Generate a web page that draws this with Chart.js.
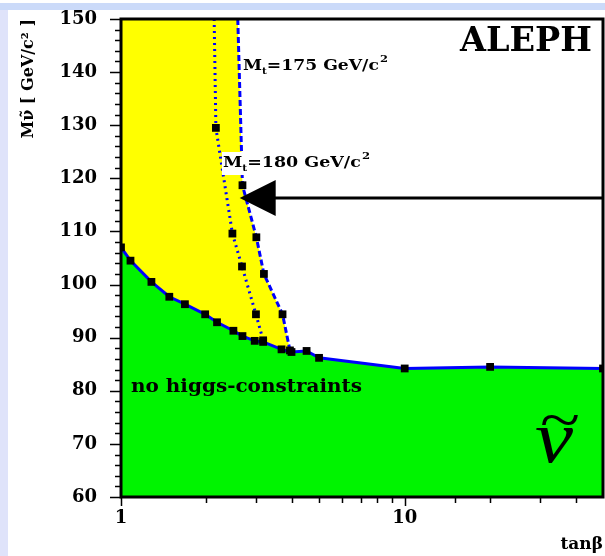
<!DOCTYPE html>
<html>
<head>
<meta charset="utf-8">
<script src="https://cdn.jsdelivr.net/npm/chart.js"></script>
<style>
html, body { margin: 0; padding: 0; background: #fff; }
canvas { display: block; }
</style>
</head>
<body>
<canvas id="grafica" width="605" height="556"></canvas>
<script>
// limite inferior (sin restricciones de higgs)
const tanbBorde = [1, 1.08, 1.28, 1.48, 1.68, 1.98, 2.18, 2.49, 2.68, 2.96, 3.17, 3.68, 3.99, 4.51, 4.99, 10, 20, 50];
const masaBorde = [107, 104.5, 100.5, 97.7, 96.3, 94.4, 92.9, 91.3, 90.3, 89.4, 89.2, 87.8, 87.3, 87.5, 86.2, 84.2, 84.5, 84.2];
// Mt = 180 (punteada)
const tanb180 = [2.13, 2.16, 2.47, 2.67, 2.99, 3.17];
const masa180 = [150, 129.5, 109.6, 103.4, 94.4, 89.5];
// Mt = 175 (discontinua)
const tanb175 = [2.58, 2.68, 3.0, 3.19, 3.71, 3.94];
const masa175 = [150, 118.7, 108.9, 102, 94.4, 87.6];

const ticksY = [60, 70, 80, 90, 100, 110, 120, 130, 140, 150];
const etiquetasX = [1, 10];
const xMin = 1, xMax = 50, yMin = 60, yMax = 150, pasoMenorY = 2;

const flechaMasa = 116.3;
const flechaTanb = 2.62;

const VERDE = '#00f400';
const AMARILLO = '#ffff00';
const AZUL = '#0000ff';
const SERIF = '"DejaVu Serif", serif';

const puntos = (xs, ys) => xs.map((x, i) => ({ x: x, y: ys[i] }));

const corteX = tanb175[tanb175.length - 1];
const poligonoAmarillo = [{ x: xMin, y: yMax }]
    .concat(puntos(tanbBorde, masaBorde).filter(p => p.x < corteX))
    .concat(puntos(tanb175, masa175).reverse());

function dibujarTexto(ctx, partes, x, y, ancho) {
    const fuente = p => `${p.italic ? 'italic ' : ''}${p.bold === false ? '' : 'bold '}${p.size}px ${p.family || SERIF}`;
    let total = 0;
    partes.forEach(p => { ctx.font = fuente(p); total += ctx.measureText(p.t).width + (p.gap || 0); });
    const sx = ancho ? ancho / total : 1;
    ctx.save();
    ctx.translate(x, y);
    ctx.scale(sx, 1);
    ctx.textAlign = 'left';
    ctx.textBaseline = 'alphabetic';
    ctx.fillStyle = '#000';
    let cx = 0;
    partes.forEach(p => {
        ctx.font = fuente(p);
        cx += p.gap || 0;
        ctx.fillText(p.t, cx, p.dy || 0);
        cx += ctx.measureText(p.t).width;
    });
    ctx.restore();
}

function etiquetaMt(valor) {
    return [
        { t: 'M', size: 15 },
        { t: 't', size: 9, dy: 4 },
        { t: '=' + valor + ' GeV/c', size: 15 },
        { t: '2', size: 10, dy: -8, gap: 1 }
    ];
}

const fondo = {
    id: 'fondo',
    beforeDraw(chart) {
        const ctx = chart.ctx;
        ctx.save();
        ctx.fillStyle = '#ffffff';
        ctx.fillRect(0, 0, chart.width, chart.height);
        ctx.fillStyle = '#cbdaf9';
        ctx.fillRect(0, 3, chart.width, 7);
        ctx.fillStyle = '#dfe3fa';
        ctx.fillRect(0, 10, 8, chart.height - 10);
        ctx.restore();
    }
};

const marco = {
    id: 'marco',
    afterDatasetsDraw(chart) {
        const ctx = chart.ctx;
        const { left, right, top, bottom } = chart.chartArea;
        const x = chart.scales.x, y = chart.scales.y;
        ctx.save();

        // flecha
        const py = y.getPixelForValue(flechaMasa);
        const punta = x.getPixelForValue(flechaTanb);
        ctx.strokeStyle = '#000';
        ctx.lineWidth = 3;
        ctx.beginPath();
        ctx.moveTo(right, py);
        ctx.lineTo(punta + 30, py);
        ctx.stroke();
        ctx.fillStyle = '#000';
        ctx.beginPath();
        ctx.moveTo(punta, py);
        ctx.lineTo(punta + 36, py - 18);
        ctx.lineTo(punta + 36, py + 18);
        ctx.closePath();
        ctx.fill();

        // textos
        dibujarTexto(ctx, [{ t: 'ALEPH', size: 33 }], 460, 51, 132);
        dibujarTexto(ctx, etiquetaMt(175), 243, 70, 145);
        ctx.fillStyle = '#fff';
        ctx.fillRect(222, 152, 60, 23);
        dibujarTexto(ctx, etiquetaMt(180), 223, 167, 147);
        dibujarTexto(ctx, [{ t: 'no higgs-constraints', size: 19 }], 131, 392, 231);
        dibujarTexto(ctx, [{ t: 'ν', size: 74, italic: true, bold: false, family: '"Liberation Serif", serif' }], 535, 462, 38);
        dibujarTexto(ctx, [{ t: '~', size: 60, bold: false, family: '"Liberation Serif", serif' }], 540, 440, 40);

        // marco y marcas de los ejes
        ctx.strokeStyle = '#000';
        ctx.lineWidth = 3;
        ctx.strokeRect(left, top, right - left, bottom - top);
        ctx.lineWidth = 1.5;
        ctx.beginPath();
        for (let v = yMin; v <= yMax; v += pasoMenorY) {
            const p = Math.round(y.getPixelForValue(v)) + 0.5;
            const largo = v % 10 === 0 ? 11 : 6;
            ctx.moveTo(left - largo, p);
            ctx.lineTo(left, p);
        }
        x.ticks.forEach(t => {
            if (t.value >= xMax) return;
            const p = Math.round(x.getPixelForValue(t.value)) + 0.5;
            const largo = Number.isInteger(Math.log10(t.value)) ? 9 : 6;
            ctx.moveTo(p, bottom);
            ctx.lineTo(p, bottom + largo);
        });
        ctx.stroke();
        ctx.restore();
    }
};

const marcador = {
    pointStyle: 'rect',
    pointRadius: c => (c.raw && c.raw.y >= yMax ? 0 : 5.5),
    pointBackgroundColor: '#000',
    pointBorderColor: '#000',
    pointBorderWidth: 0,
    pointHoverRadius: 5.5
};

new Chart(document.getElementById('grafica'), {
    type: 'scatter',
    data: {
        datasets: [
            Object.assign({
                label: 'Mt=180',
                data: puntos(tanb180, masa180),
                showLine: true,
                borderColor: AZUL,
                borderWidth: 3,
                borderDash: [2, 4],
                fill: false
            }, marcador),
            Object.assign({
                label: 'Mt=175',
                data: puntos(tanb175, masa175),
                showLine: true,
                borderColor: AZUL,
                borderWidth: 3,
                borderDash: [6, 3],
                fill: false
            }, marcador),
            Object.assign({
                label: 'no higgs-constraints',
                data: puntos(tanbBorde, masaBorde),
                showLine: true,
                borderColor: AZUL,
                borderWidth: 3,
                backgroundColor: VERDE,
                fill: 'start'
            }, marcador),
            {
                label: 'region',
                data: poligonoAmarillo,
                showLine: true,
                borderWidth: 0,
                borderColor: AMARILLO,
                backgroundColor: AMARILLO,
                pointRadius: 0,
                fill: 'shape'
            }
        ]
    },
    options: {
        responsive: false,
        animation: false,
        layout: { autoPadding: false, padding: { top: 19, right: 2, left: 0, bottom: 0 } },
        plugins: {
            legend: { display: false },
            tooltip: { enabled: false }
        },
        scales: {
            x: {
                type: 'logarithmic',
                min: xMin,
                max: xMax,
                grid: { display: false, drawTicks: false },
                border: { display: false },
                ticks: {
                    autoSkip: false,
                    maxRotation: 0,
                    padding: 11,
                    color: '#000',
                    font: { family: SERIF, size: 18, weight: 'bold' },
                    callback: v => (etiquetasX.includes(v) ? String(v) : '')
                },
                title: {
                    display: true,
                    text: 'tanβ',
                    align: 'end',
                    color: '#000',
                    font: { family: SERIF, size: 17, weight: 'bold' },
                    padding: { top: 0, bottom: 1 }
                },
                afterFit: s => {
                    s.height = 59;
                    s.paddingLeft = 0;
                    s.paddingRight = 0;
                }
            },
            y: {
                min: yMin,
                max: yMax,
                afterBuildTicks: s => { s.ticks = ticksY.map(v => ({ value: v })); },
                grid: { display: false, drawTicks: false },
                border: { display: false },
                ticks: {
                    padding: 24,
                    color: '#000',
                    font: { family: SERIF, size: 18, weight: 'bold' }
                },
                title: {
                    display: true,
                    text: 'Mν̃ [ GeV/c² ]',
                    align: 'end',
                    color: '#000',
                    font: { family: SERIF, size: 16, weight: 'bold' },
                    padding: { top: 19, bottom: 0 }
                },
                afterFit: s => {
                    s.width = 121;
                    s.paddingTop = 0;
                    s.paddingBottom = 0;
                }
            }
        }
    },
    plugins: [fondo, marco]
});
</script>
</body>
</html>
